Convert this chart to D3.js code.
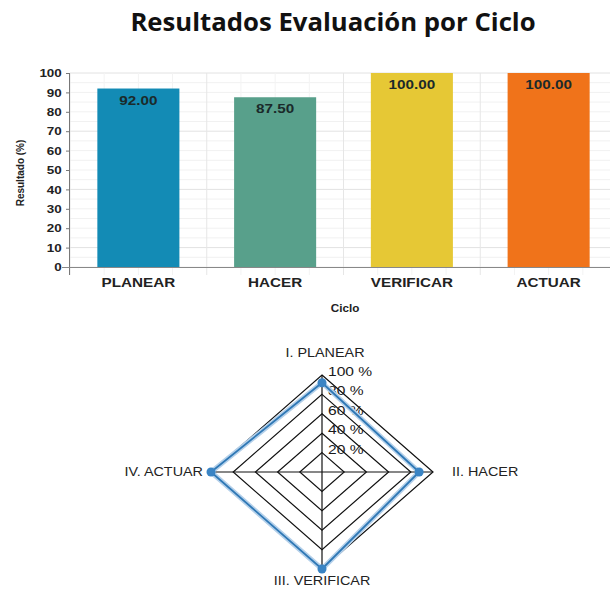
<!DOCTYPE html>
<html>
<head>
<meta charset="utf-8">
<script src="https://cdn.jsdelivr.net/npm/d3@7"></script>
<style>
  html, body { margin: 0; padding: 0; background: #fff; }
  svg { display: block; }
</style>
</head>
<body>
<svg id="chart" width="610" height="590"></svg>
<script>
// Cycle results (percent)
const categories = ["PLANEAR", "HACER", "VERIFICAR", "ACTUAR"];
const values = [92.0, 87.5, 100.0, 100.0];
const barColors = ["#138bb5", "#58a08b", "#e6c835", "#f0731a"];
const yTicks = [0, 10, 20, 30, 40, 50, 60, 70, 80, 90, 100];

// Radar axes and ring labels
const radarAxes = ["I. PLANEAR", "II. HACER", "III. VERIFICAR", "IV. ACTUAR"];
const radarValues = [92.0, 87.5, 100.0, 100.0];
const ringLevels = [20, 40, 60, 80, 100];
const ringLabels = ["20 %", "40 %", "60 %", "80 %", "100 %"];

const FONT = "'Liberation Sans', Arial, sans-serif";
const SX = 1.17; // horizontal text widening

const svg = d3.select("#chart");

// place a text at (x,y) widened horizontally
function wideText(sel, x, y, sx) {
  return sel.attr("x", 0).attr("y", 0)
    .attr("transform", `translate(${x},${y}) scale(${sx},1)`);
}

// Title
wideText(svg.append("text"), 333, 31, 1.05)
  .attr("text-anchor", "middle")
  .attr("font-family", "'Open Sans', sans-serif")
  .attr("font-weight", "bold")
  .attr("font-size", 24.5)
  .attr("fill", "#111")
  .text("Resultados Evaluación por Ciclo");

// ---- Bar chart ----
const plot = { left: 70, right: 617, top: 73, bottom: 267 };
const x = d3.scaleBand().domain(categories).range([plot.left, plot.right]).paddingInner(0.4).paddingOuter(0.2);
const y = d3.scaleLinear().domain([0, 100]).range([plot.bottom, plot.top]);

const bar = svg.append("g");

// grid
bar.append("g").selectAll("line").data(d3.range(0, 101, 5)).join("line")
  .attr("x1", plot.left).attr("x2", plot.right)
  .attr("y1", d => y(d)).attr("y2", d => y(d))
  .attr("stroke", d => d % 30 === 10 ? "#e2e2e2" : "#f1f1f1").attr("stroke-width", 1);
const step = x.step();
const vLines = d3.range(0, categories.length * 4 + 1).map(i => plot.left + i * step / 4);
bar.append("g").selectAll("line").data(vLines).join("line")
  .attr("x1", d => d).attr("x2", d => d)
  .attr("y1", plot.top).attr("y2", plot.bottom + 8)
  .attr("stroke", (d, i) => i % 4 === 0 ? "#e6e6e6" : "#f3f3f3").attr("stroke-width", 1);

// bars
bar.append("g").selectAll("rect").data(categories).join("rect")
  .attr("x", d => x(d)).attr("width", x.bandwidth())
  .attr("y", (d, i) => y(values[i])).attr("height", (d, i) => y(0) - y(values[i]))
  .attr("fill", (d, i) => barColors[i]);

// value labels
bar.append("g").selectAll("text").data(categories).join("text")
  .each(function (d, i) {
    wideText(d3.select(this), x(d) + x.bandwidth() / 2, y(values[i]) + 16, 1.22);
  })
  .attr("text-anchor", "middle")
  .attr("font-family", FONT)
  .attr("font-weight", "bold").attr("font-size", 12.5)
  .attr("fill", "#1b2a2a")
  .text((d, i) => values[i].toFixed(2));

// y axis
const yAxis = bar.append("g").attr("transform", `translate(${plot.left},0)`)
  .call(d3.axisLeft(y).tickValues(yTicks).tickSize(4).tickPadding(3));
yAxis.select(".domain").attr("stroke", "#777").attr("d", `M-0.5,${plot.top}V${plot.bottom + 8}`);
yAxis.selectAll(".tick line").attr("stroke", "#777");
yAxis.selectAll("text").attr("font-family", FONT)
  .attr("font-weight", "bold").attr("font-size", 11.5).attr("fill", "#222")
  .attr("transform", `scale(${SX},1)`);

// x axis
const xAxis = bar.append("g").attr("transform", `translate(0,${plot.bottom})`)
  .call(d3.axisBottom(x).tickSize(0).tickPadding(11));
xAxis.select(".domain").attr("stroke", "#888").attr("d", `M${plot.left - 8},0.5H${plot.right}`);
xAxis.selectAll("text").attr("font-family", FONT)
  .attr("font-weight", "bold").attr("font-size", 12.5).attr("fill", "#222")
  .attr("transform", `scale(1.22,1)`);

// axis titles
svg.append("text")
  .attr("transform", "translate(24,173) rotate(-90)")
  .attr("text-anchor", "middle")
  .attr("font-family", FONT).attr("font-weight", "bold")
  .attr("font-size", 10).attr("fill", "#222")
  .text("Resultado (%)");
wideText(svg.append("text"), 345, 312, SX)
  .attr("text-anchor", "middle")
  .attr("font-family", FONT).attr("font-weight", "bold")
  .attr("font-size", 10).attr("fill", "#222")
  .text("Ciclo");

// ---- Radar chart ----
const cx = 322, cy = 472, rx = 111, ry = 97;
const r = d3.scaleLinear().domain([0, 100]).range([0, 1]);
const angles = radarAxes.map((d, i) => -Math.PI / 2 + i * 2 * Math.PI / radarAxes.length);
const pt = (i, v) => [cx + Math.cos(angles[i]) * rx * r(v), cy + Math.sin(angles[i]) * ry * r(v)];

const radar = svg.append("g");
const ringLine = d3.line().curve(d3.curveLinearClosed);

radar.selectAll("path.ring").data(ringLevels).join("path")
  .attr("class", "ring")
  .attr("d", lv => ringLine(radarAxes.map((a, i) => pt(i, lv))))
  .attr("fill", "none").attr("stroke", "#111").attr("stroke-width", 1.2);

radar.selectAll("line.spoke").data(radarAxes).join("line")
  .attr("class", "spoke")
  .attr("x1", cx).attr("y1", cy)
  .attr("x2", (d, i) => pt(i, 100)[0]).attr("y2", (d, i) => pt(i, 100)[1])
  .attr("stroke", "#111").attr("stroke-width", 1.2);

// ring labels
radar.selectAll("text.ringlabel").data(ringLevels).join("text")
  .attr("class", "ringlabel")
  .each(function (lv) { wideText(d3.select(this), cx + 6, cy - ry * r(lv) + 1, 1.2); })
  .attr("font-family", FONT)
  .attr("font-size", 13).attr("fill", "#1a1a1a")
  .text((lv, i) => ringLabels[i]);

// series
const seriesPts = radarValues.map((v, i) => pt(i, v));
radar.append("path")
  .attr("d", ringLine(seriesPts))
  .attr("fill", "none").attr("stroke", "#b4d0ea").attr("stroke-width", 5);
radar.append("path")
  .attr("d", ringLine(seriesPts))
  .attr("fill", "none").attr("stroke", "#2f78b5").attr("stroke-width", 1.8);
radar.selectAll("circle").data(seriesPts).join("circle")
  .attr("cx", d => d[0]).attr("cy", d => d[1]).attr("r", 4.5)
  .attr("fill", "#3a84c4");

// axis labels
const labelPos = [
  { x: cx + 3, y: 357, anchor: "middle" },
  { x: pt(1, 100)[0] + 19, y: cy + 4, anchor: "start" },
  { x: cx, y: 585, anchor: "middle" },
  { x: pt(3, 100)[0] - 8, y: cy + 4, anchor: "end" }
];
radar.selectAll("text.axislabel").data(radarAxes).join("text")
  .attr("class", "axislabel")
  .each(function (d, i) { wideText(d3.select(this), labelPos[i].x, labelPos[i].y, 1.15); })
  .attr("text-anchor", (d, i) => labelPos[i].anchor)
  .attr("font-family", FONT)
  .attr("font-size", 12.5).attr("fill", "#222")
  .text(d => d);
</script>
</body>
</html>
